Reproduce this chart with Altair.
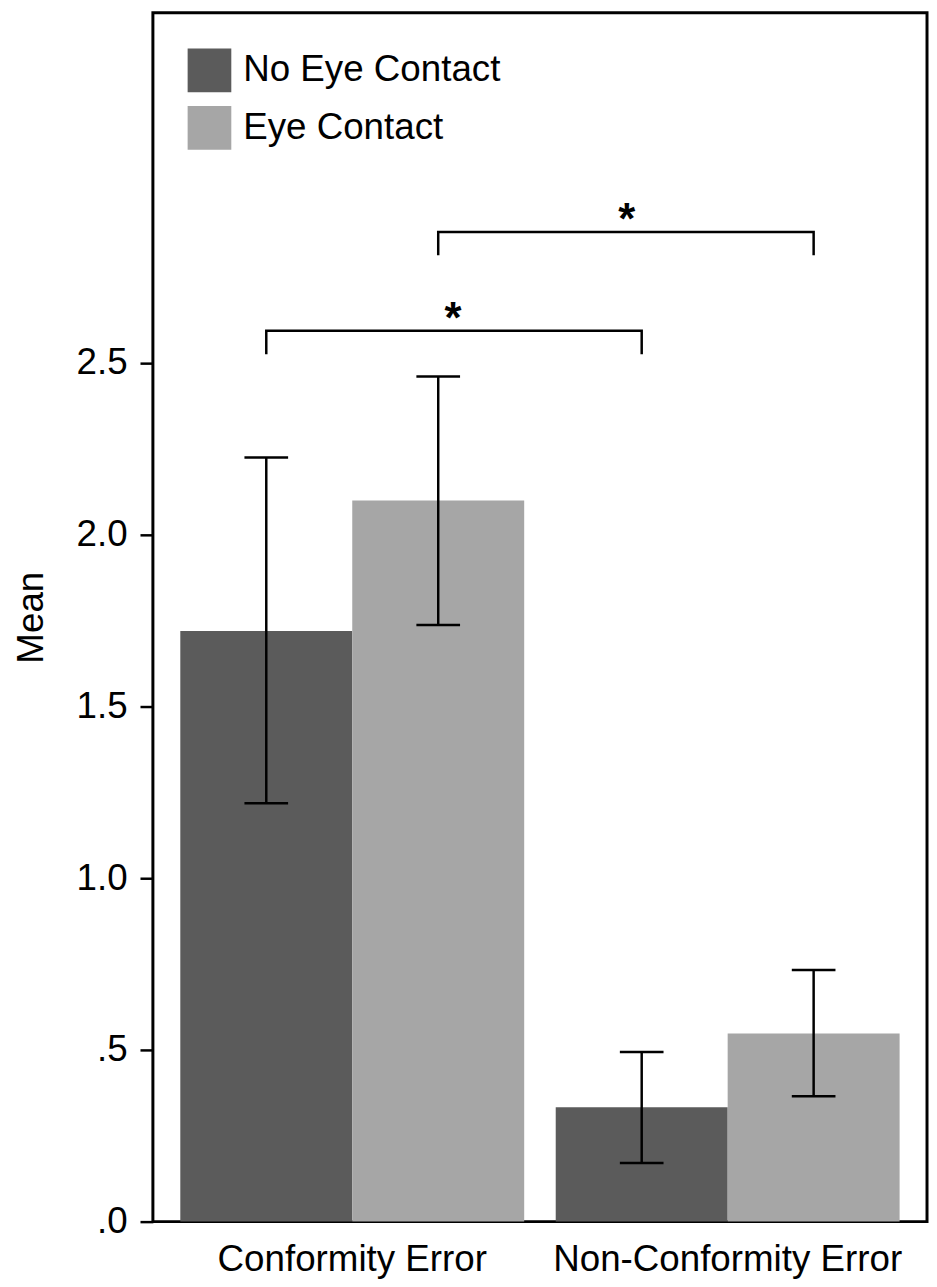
import altair as alt
import pandas as pd

# ---- data ----
categories = ["Conformity Error", "Non-Conformity Error"]
groups = ["No Eye Contact", "Eye Contact"]
colors = ["#5b5b5b", "#a6a6a6"]

mean_no_eye = [1.72, 0.333]
mean_eye = [2.10, 0.548]
low_no_eye = [1.218, 0.171]
high_no_eye = [2.225, 0.494]
low_eye = [1.737, 0.365]
high_eye = [2.461, 0.733]

y_ticks = [0.0, 0.5, 1.0, 1.5, 2.0, 2.5]
y_tick_labels = [".0", ".5", "1.0", "1.5", "2.0", "2.5"]

# significance brackets: (category, group) of start and end bars
bracket_start = [("Conformity Error", "No Eye Contact"), ("Conformity Error", "Eye Contact")]
bracket_end = [("Non-Conformity Error", "No Eye Contact"), ("Non-Conformity Error", "Eye Contact")]
bracket_top = [2.594, 2.882]
bracket_foot = [2.526, 2.814]

FONT = "Liberation Sans"
FS = 37

# ---- tables ----
rows = []
for i, c in enumerate(categories):
    rows.append(dict(category=c, group=groups[0], mean=mean_no_eye[i], lo=low_no_eye[i], hi=high_no_eye[i]))
    rows.append(dict(category=c, group=groups[1], mean=mean_eye[i], lo=low_eye[i], hi=high_eye[i]))
df = pd.DataFrame(rows)

brows = []
for b in range(len(bracket_top)):
    (c1, g1), (c2, g2) = bracket_start[b], bracket_end[b]
    brows += [
        dict(bracket=b, order=0, category=c1, group=g1, yv=bracket_foot[b]),
        dict(bracket=b, order=1, category=c1, group=g1, yv=bracket_top[b]),
        dict(bracket=b, order=2, category=c2, group=g2, yv=bracket_top[b]),
        dict(bracket=b, order=3, category=c2, group=g2, yv=bracket_foot[b]),
    ]
bdf = pd.DataFrame(brows)

star1 = pd.DataFrame([dict(category=bracket_start[0][0], group="Eye Contact", yv=bracket_top[0])])
star2 = pd.DataFrame([dict(category=bracket_end[1][0], group="No Eye Contact", yv=bracket_top[1])])

label_expr = ""
for v, lab in zip(y_ticks, y_tick_labels):
    label_expr += f"datum.value == {v} ? '{lab}' : "
label_expr += "''"

y_scale = alt.Scale(domain=[0, 3.52], nice=False, zero=True)
y_axis = alt.Axis(
    values=y_ticks, labelExpr=label_expr, title="Mean", titleFontSize=FS,
    titleFontWeight="normal", titleColor="black", titlePadding=26,
    tickSize=13, tickWidth=2.5, tickColor="black", labelPadding=13,
    labelFontSize=FS, labelColor="black", domain=False, grid=False,
)

x_enc = alt.X(
    "category:N", sort=categories,
    scale=alt.Scale(domain=categories, paddingInner=0.084, paddingOuter=0.073),
    axis=alt.Axis(title=None, labelAngle=0, ticks=False, domain=False, labelLimit=1000,
                  labelFontSize=FS, labelPadding=20, labelColor="black", grid=False),
)
xo_enc = alt.XOffset("group:N", sort=groups,
                     scale=alt.Scale(domain=groups, paddingInner=0, paddingOuter=0))

bars = alt.Chart(df).mark_bar(strokeWidth=0).encode(
    x=x_enc,
    xOffset=xo_enc,
    y=alt.Y("mean:Q", scale=y_scale, axis=y_axis, title="Mean"),
    color=alt.Color(
        "group:N", sort=groups,
        scale=alt.Scale(domain=groups, range=colors),
        legend=alt.Legend(
            title=None, orient="none", legendX=35, legendY=36,
            symbolType="square", symbolSize=1936, symbolStrokeWidth=0,
            symbolOpacity=1, labelFontSize=FS, labelColor="black",
            labelOffset=12, rowPadding=14, padding=0, labelLimit=500,
        ),
    ),
)

err = alt.Chart(df).mark_rule(color="black", strokeWidth=2.5).encode(
    x=x_enc, xOffset=xo_enc,
    y=alt.Y("lo:Q", scale=y_scale, axis=y_axis, title="Mean"),
    y2="hi:Q",
)
cap_lo = alt.Chart(df).mark_tick(color="black", size=44, thickness=2.5, orient="horizontal", opacity=1).encode(
    x=x_enc, xOffset=xo_enc,
    y=alt.Y("lo:Q", scale=y_scale, axis=y_axis, title="Mean"),
)
cap_hi = alt.Chart(df).mark_tick(color="black", size=44, thickness=2.5, orient="horizontal", opacity=1).encode(
    x=x_enc, xOffset=xo_enc,
    y=alt.Y("hi:Q", scale=y_scale, axis=y_axis, title="Mean"),
)

brackets = alt.Chart(bdf).mark_line(color="black", strokeWidth=2.5, strokeCap="butt", strokeJoin="miter").encode(
    x=x_enc, xOffset=xo_enc,
    y=alt.Y("yv:Q", scale=y_scale, axis=y_axis, title="Mean"),
    detail="bracket:N",
    order="order:Q",
)

s1 = alt.Chart(star1).mark_text(text="*", fontSize=44, fontWeight="bold", dx=15, dy=2, baseline="alphabetic", color="black").encode(
    x=x_enc, xOffset=xo_enc,
    y=alt.Y("yv:Q", scale=y_scale, axis=y_axis, title="Mean"),
)
s2 = alt.Chart(star2).mark_text(text="*", fontSize=44, fontWeight="bold", dx=-15, dy=2, baseline="alphabetic", color="black").encode(
    x=x_enc, xOffset=xo_enc,
    y=alt.Y("yv:Q", scale=y_scale, axis=y_axis, title="Mean"),
)

chart = alt.layer(bars, err, cap_lo, cap_hi, brackets, s1, s2).properties(
    width=780, height=1218,
    padding={"left": 4, "top": 0, "right": 2, "bottom": 0},
    background="white",
).configure(font=FONT).configure_view(stroke="black", strokeWidth=3)

chart.save("out.html", embed_options={"renderer": "svg", "actions": False})
